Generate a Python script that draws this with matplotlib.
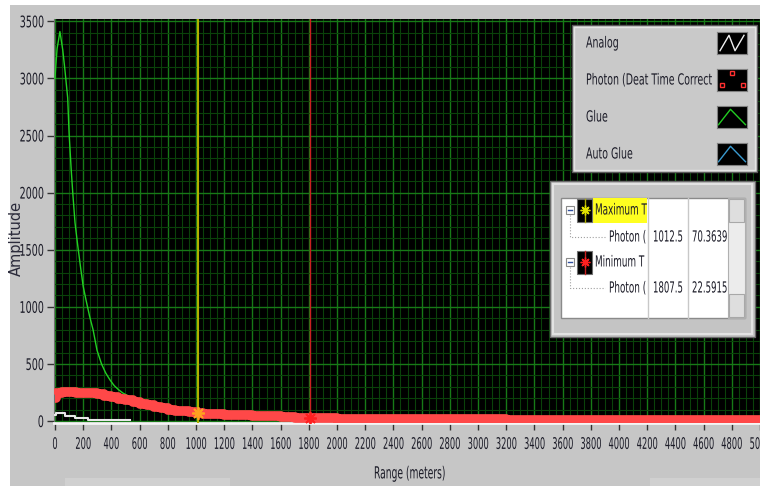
import matplotlib
matplotlib.use("Agg")
import matplotlib.pyplot as plt
from matplotlib.patches import Rectangle
from matplotlib.lines import Line2D
from matplotlib.ticker import MultipleLocator
from matplotlib.transforms import Affine2D, Bbox, TransformedBbox
from matplotlib.patheffects import AbstractPathEffect

W, H = 760, 486

# --- data ---
glue_range = [0, 5, 15, 35, 55, 70, 90, 100, 115, 128, 142, 160, 182, 200, 220,
              245, 270, 298, 330, 360, 390, 420, 450, 482, 520, 600, 800, 1000,
              1500, 2000, 3000, 5000]
glue_amp = [3000, 3100, 3260, 3410, 3250, 3080, 2830, 2520, 2200, 1965, 1736,
            1550, 1340, 1180, 1060, 920, 800, 620, 500, 420, 360, 310, 275,
            245, 220, 180, 110, 70, 40, 22, 15, 12]

analog_range = [0, 10, 71, 142, 234, 530]
analog_amp = [50, 68, 48, 25, 5, 5]

photon_range = [0, 10, 50, 100, 150, 200, 250, 300, 350, 400, 450, 500, 550,
                600, 650, 700, 750, 800, 850, 900, 950, 1000, 1050, 1100, 1200,
                1300, 1400, 1500, 1600, 1700, 1800, 1900, 2000, 2200, 2400,
                2600, 2800, 2850, 2900, 3200, 3600, 4000, 4400, 4800, 5000]
photon_amp = [200, 250, 255, 255, 250, 250, 245, 235, 222, 208, 195, 180, 165,
              150, 138, 125, 112, 100, 92, 85, 78, 70, 64, 60, 55, 50, 45, 40,
              36, 31, 27, 25, 22, 20, 20, 19, 18, 22, 14, 13, 12, 12, 12, 12, 12]

legend_names = ["Analog", "Photon (Deat Time Corrected)", "Glue", "Auto Glue"]
legend_colors = ["#f0f0f0", "#ff3030", "#22cc22", "#3a9ad0"]

cursor_names = ["Maximum T", "Minimum T"]
cursor_plot = ["Photon (Deat Time Corrected)", "Photon (Deat Time Corrected)"]
cursor_x = [1012.5, 1807.5]
cursor_y = [70.3639, 22.5915]
cursor_line_colors = ["#b0b000", "#c82020"]
cursor_mark_colors = ["#ffa020", "#ff2020"]

TXT = '#1c1c28'


class Squeeze(AbstractPathEffect):
    """Draw text glyphs narrower (the screenshot font is condensed)."""

    def __init__(self, sx=0.6, anchor='left'):
        super().__init__()
        self.sx = sx
        self.anchor = anchor

    def draw_path(self, renderer, gc, tpath, affine, rgbFace=None):
        ext = tpath.get_extents()
        if self.anchor == 'center':
            x0 = (ext.x0 + ext.x1) / 2
        elif self.anchor == 'right':
            x0 = ext.x1
        else:
            x0 = 0
        t = Affine2D().translate(-x0, 0).scale(self.sx, 1).translate(x0, 0)
        renderer.draw_path(gc, tpath, t + affine, rgbFace)


def fx(x):
    return x / W


def fy(y):
    return 1 - y / H


def rect(x0, y0, x1, y1, **kw):
    r = Rectangle((fx(x0), fy(y1)), fx(x1) - fx(x0), fy(y0) - fy(y1),
                  transform=fig.transFigure, **kw)
    fig.add_artist(r)
    return r


def ftext(x, y, s, sx=0.6, x0=None, x1=None, size=11, **kw):
    t = fig.text(fx(x), fy(y), s, va='center', fontsize=size, color=TXT,
                 path_effects=[Squeeze(sx)], **kw)
    if x0 is not None:
        box = Bbox([[fx(x0), 0], [fx(x1), 1]])
        t.set_clip_box(TransformedBbox(box, fig.transFigure))
        t.set_clip_on(True)
    return t


fig = plt.figure(figsize=(7.6, 4.86), dpi=100, facecolor='white')

# gray LabVIEW panel
rect(10, 5, 760, 486, facecolor='#c6c6c6', edgecolor='none', zorder=-2)
rect(65, 478, 230, 486, facecolor='#d0d0d0', edgecolor='none', zorder=-1)
rect(650, 478, 760, 486, facecolor='#d0d0d0', edgecolor='none', zorder=-1)

ax = fig.add_axes([fx(54), fy(423), fx(765) - fx(54), (423 - 19) / H])
ax.set_facecolor('black')
ax.set_xlim(-7, 5035)
ax.set_ylim(-17, 3520)

ax.xaxis.set_major_locator(MultipleLocator(200))
ax.xaxis.set_minor_locator(MultipleLocator(50))
ax.yaxis.set_major_locator(MultipleLocator(500))
ax.yaxis.set_minor_locator(MultipleLocator(100))
ax.grid(which='minor', color='#0a420a', lw=0.8)
ax.grid(which='major', color='#177a17', lw=1.0)
ax.set_axisbelow(True)

ax.tick_params(which='major', direction='out', length=5, width=1,
               color='#333333', labelsize=11.5, labelcolor=TXT)
ax.tick_params(axis='x', pad=5)
ax.tick_params(axis='y', pad=2)
ax.tick_params(which='minor', length=0)

for s in ['top', 'right']:
    ax.spines[s].set_visible(False)
ax.spines['left'].set_color('#707070')
ax.spines['bottom'].set_color('#f4f4f4')
ax.spines['bottom'].set_linewidth(2)

ax.plot(glue_range, glue_amp, color='#22d022', lw=1.0, zorder=3)
ax.plot(analog_range, analog_amp, color='#e8e8e8', lw=1.5,
        drawstyle='steps-post', zorder=3)
ax.plot(photon_range, photon_amp, color='#ff4848', lw=7,
        drawstyle='steps-post', solid_capstyle='butt', zorder=4)

for i, (cx, cy) in enumerate(zip(cursor_x, cursor_y)):
    ax.axvline(cx, color=cursor_line_colors[i], lw=1.5 if i == 0 else 1.0,
               zorder=5)
    ax.plot([cx], [cy], marker=(8, 2, 0), ms=9, color=cursor_mark_colors[i],
            mew=1.3, zorder=6)

ax.set_xlabel('Range (meters)', fontsize=12, color=TXT, labelpad=9,
              path_effects=[Squeeze(0.55, 'center')])
fig.text(fx(16), fy(238), 'Amplitude', rotation=90, ha='center', va='center',
         fontsize=10.5, color='#2a2a3a')

fig.canvas.draw()
for lbl in ax.get_xticklabels():
    lbl.set_path_effects([Squeeze(0.52, 'center')])
for lbl in ax.get_yticklabels():
    lbl.set_path_effects([Squeeze(0.6, 'right')])

# --- plot legend panel ---
rect(572, 25, 757, 172, facecolor='#c9c9c9', edgecolor='#5a5a5a', lw=1, zorder=5)
rect(574, 27, 755, 170, facecolor='none', edgecolor='#e4e4e4', lw=1, zorder=5)
legend_y = [43, 80, 117, 154]
for name, col, ly in zip(legend_names, legend_colors, legend_y):
    ftext(586, ly, name, sx=0.62, x0=580, x1=712, zorder=6)
    ia = fig.add_axes([fx(717), fy(ly + 11), fx(30), 22 / H], zorder=7)
    ia.set_facecolor('black')
    ia.set_xticks([])
    ia.set_yticks([])
    for sp in ia.spines.values():
        sp.set_color('#808080')
    ia.set_xlim(0, 1)
    ia.set_ylim(0, 1)
    if name == "Analog":
        ia.plot([0.1, 0.4, 0.6, 0.9], [0.15, 0.85, 0.15, 0.85], color=col, lw=1)
    elif name.startswith("Photon"):
        ia.plot([0.15, 0.5, 0.85], [0.25, 0.8, 0.25], ls='none', marker='s',
                ms=3, mfc='none', mec=col, mew=1)
    else:
        ia.plot([0.05, 0.45, 0.95], [0.15, 0.85, 0.15], color=col, lw=1)

# --- cursor table panel ---
rect(550, 181, 755, 337, facecolor='#c4c4c4', edgecolor='#6a6a6a', lw=1, zorder=5)
rect(553, 184, 752, 334, facecolor='none', edgecolor='#e2e2e2', lw=1.5, zorder=5)
rect(561, 198, 745, 318, facecolor='white', edgecolor='#8a8a8a', lw=1, zorder=5)
rect(728, 198, 745, 318, facecolor='#ececec', edgecolor='#b0b0b0', lw=0.8, zorder=6)
rect(729, 199, 744, 222, facecolor='#dedede', edgecolor='#a8a8a8', lw=0.8, zorder=6)
rect(729, 294, 744, 317, facecolor='#dedede', edgecolor='#a8a8a8', lw=0.8, zorder=6)
for sep in (648, 688):
    fig.add_artist(Line2D([fx(sep)] * 2, [fy(198), fy(318)], color='#c8c8c8',
                          lw=1, transform=fig.transFigure, zorder=6))

row_y = [(210, 237), (262, 288)]
for i, (name, plot_name, cx, cy) in enumerate(zip(cursor_names, cursor_plot,
                                                  cursor_x, cursor_y)):
    y0, y1 = row_y[i]
    fig.add_artist(Line2D([fx(570), fx(570), fx(605)],
                          [fy(y0 + 5), fy(y1), fy(y1)], color='#a0a0a0',
                          lw=0.8, ls=':', transform=fig.transFigure, zorder=6))
    rect(566, y0 - 4, 574, y0 + 4, facecolor='white', edgecolor='#8a8a8a',
         lw=0.8, zorder=7)
    fig.add_artist(Line2D([fx(568), fx(572)], [fy(y0), fy(y0)],
                          color='#3050a0', lw=1, transform=fig.transFigure,
                          zorder=8))
    rect(577, y0 - 11, 592, y0 + 12, facecolor='black', edgecolor='#707070',
         lw=0.8, zorder=7)
    fig.add_artist(Line2D([fx(584.5)] * 2, [fy(y0 - 11), fy(y0 + 12)],
                          color=cursor_line_colors[i], lw=1,
                          transform=fig.transFigure, zorder=8))
    fig.add_artist(Line2D([fx(584.5)], [fy(y0)], marker=(8, 2, 0), ms=7,
                          color=cursor_mark_colors[i] if i else '#e0e000',
                          transform=fig.transFigure, zorder=9))
    if i == 0:
        rect(593, y0 - 12, 647, y0 + 13, facecolor='#ffff20', edgecolor='none',
             zorder=6)
    ftext(595, y0, name, sx=0.58, x0=593, x1=647, zorder=7)
    ftext(609, y1, plot_name, sx=0.58, x0=600, x1=647, zorder=7)
    ftext(653, y1, f"{cx:.1f}", sx=0.56, x0=649, x1=687, zorder=7)
    ftext(692, y1, f"{cy:.4f}", sx=0.56, x0=689, x1=728, zorder=7)

fig.savefig('out.png', dpi=100, facecolor=fig.get_facecolor())
